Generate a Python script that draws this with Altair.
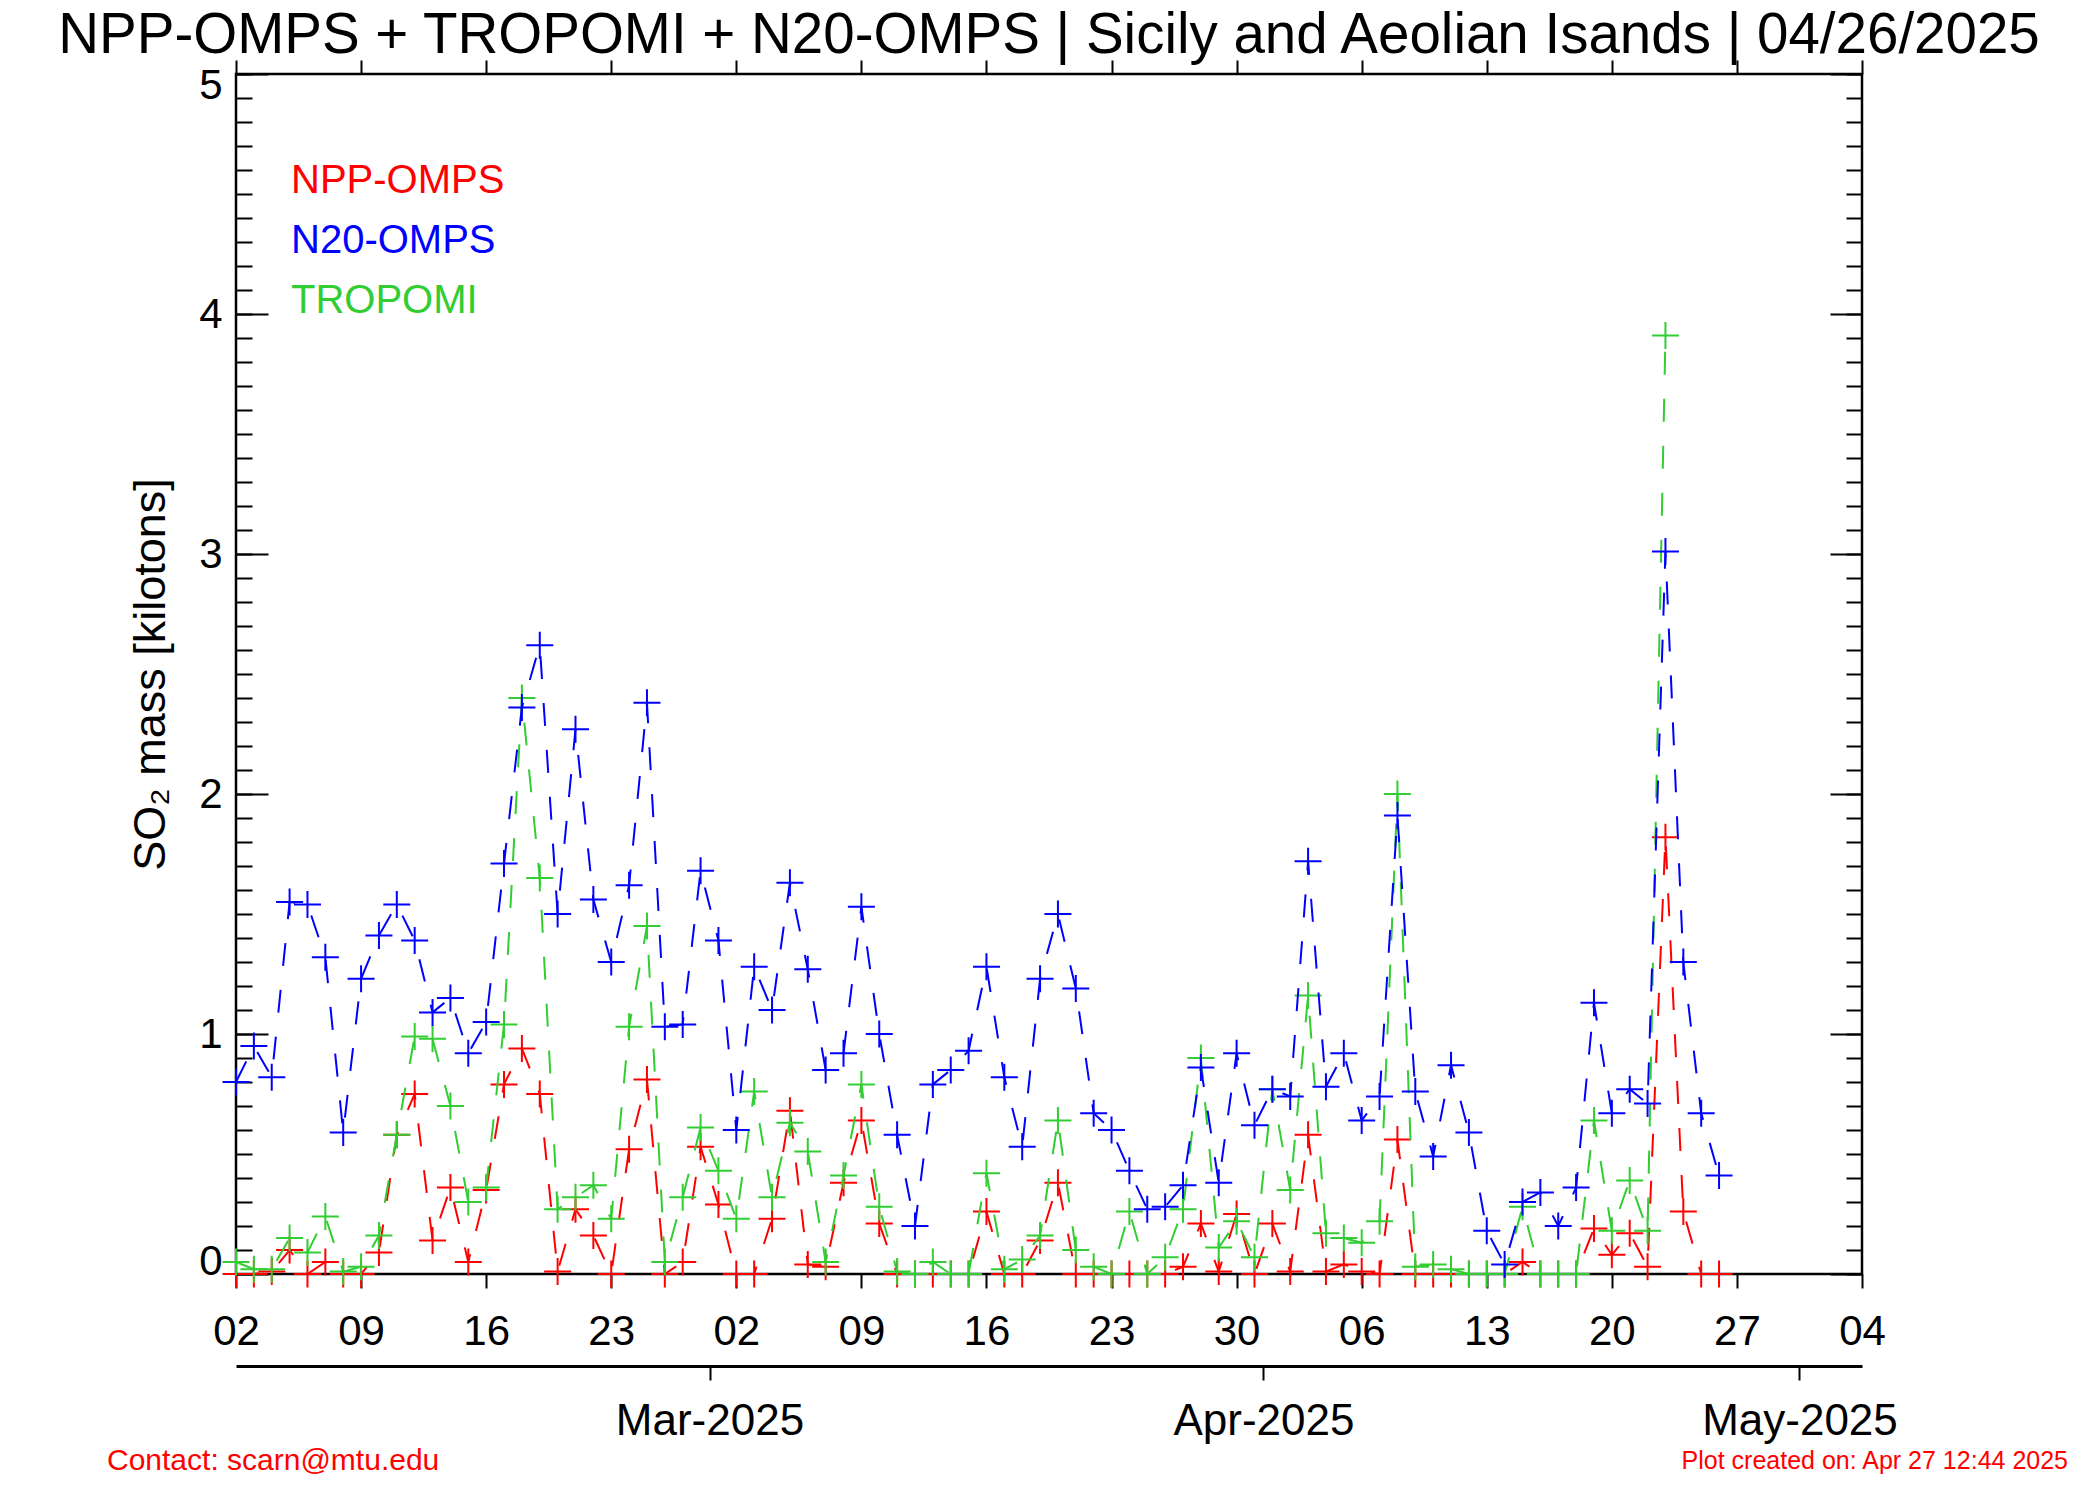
import altair as alt
import pandas as pd

FONT = "Liberation Sans"
TITLE = "NPP-OMPS + TROPOMI + N20-OMPS | Sicily and Aeolian Isands | 04/26/2025"
Y_TITLE = "SO\u2082 mass [kilotons]"
CONTACT = "Contact: scarn@mtu.edu"
CREATED = "Plot created on: Apr 27 12:44 2025"

START = "2025-02-02"
END = "2025-05-04"

series_names = ["NPP-OMPS", "N20-OMPS", "TROPOMI"]
series_colors = ["#ff0000", "#0000ff", "#32cd32"]

# daily values starting 2025-02-02 (kilotons)
npp_omps = [0.00, 0.00, 0.01, 0.10, 0.00, 0.05, 0.00, 0.00, 0.09, 0.58,
            0.75, 0.14, 0.36, 0.05, 0.35, 0.79, 0.94, 0.75, 0.01, 0.27,
            0.16, 0.00, 0.52, 0.81, 0.00, 0.05, 0.53, 0.29, 0.00, 0.00,
            0.23, 0.68, 0.04, 0.03, 0.38, 0.64, 0.21, 0.00, 0.00, 0.00,
            0.00, 0.00, 0.26, 0.00, 0.00, 0.14, 0.38, 0.00, 0.00, 0.00,
            0.00, 0.00, 0.00, 0.03, 0.21, 0.01, 0.25, 0.00, 0.21, 0.01,
            0.58, 0.01, 0.04, 0.01, 0.00, 0.56, 0.00, 0.00, 0.00, 0.00,
            0.00, 0.00, 0.05, 0.00, 0.00, 0.00, 0.19, 0.08, 0.17, 0.03,
            1.82, 0.26, 0.00, 0.00]

n20_omps = [0.80, 0.95, 0.82, 1.55, 1.54, 1.32, 0.59, 1.23, 1.41, 1.54,
            1.39, 1.09, 1.15, 0.92, 1.05, 1.71, 2.36, 2.62, 1.50, 2.27,
            1.56, 1.30, 1.62, 2.38, 1.03, 1.04, 1.68, 1.39, 0.60, 1.28,
            1.10, 1.63, 1.27, 0.85, 0.92, 1.53, 1.00, 0.58, 0.20, 0.79,
            0.85, 0.93, 1.28, 0.82, 0.53, 1.23, 1.50, 1.19, 0.67, 0.60,
            0.43, 0.27, 0.28, 0.37, 0.86, 0.38, 0.92, 0.62, 0.77, 0.74,
            1.72, 0.78, 0.92, 0.64, 0.74, 1.91, 0.76, 0.49, 0.87, 0.59,
            0.18, 0.04, 0.30, 0.34, 0.20, 0.36, 1.13, 0.67, 0.77, 0.71,
            3.01, 1.30, 0.67, 0.41]

tropomi = [0.05, 0.02, 0.02, 0.15, 0.09, 0.24, 0.01, 0.03, 0.16, 0.58,
           0.99, 0.98, 0.70, 0.30, 0.36, 1.04, 2.40, 1.65, 0.27, 0.32,
           0.37, 0.23, 1.03, 1.45, 0.05, 0.32, 0.61, 0.43, 0.23, 0.76,
           0.32, 0.63, 0.51, 0.05, 0.41, 0.79, 0.28, 0.01, 0.00, 0.05,
           0.00, 0.00, 0.42, 0.02, 0.06, 0.16, 0.64, 0.10, 0.03, 0.00,
           0.26, 0.00, 0.07, 0.27, 0.90, 0.11, 0.22, 0.07, 0.77, 0.35,
           1.16, 0.17, 0.15, 0.13, 0.22, 2.00, 0.03, 0.04, 0.02, 0.00,
           0.00, 0.00, 0.28, 0.00, 0.00, 0.00, 0.64, 0.18, 0.39, 0.18,
           3.91]

y_major = [0, 1, 2, 3, 4, 5]
y_minor = [round(i * 0.1, 1) for i in range(51)]
month_ticks = ["2025-02-28T12:00:00Z", "2025-03-31T12:00:00Z", "2025-04-30T12:00:00Z"]


def dt(ts):
    t = pd.Timestamp(ts)
    return alt.DateTime(year=t.year, month=t.month, date=t.day,
                        hours=t.hour, utc=True)


week_vals = [dt(d) for d in pd.date_range(START, END, freq="7D")]
month_vals = [dt(m.replace("Z", "")) for m in month_ticks]


def day_strings(n):
    return list(pd.date_range(START, periods=n, freq="D").strftime("%Y-%m-%d"))


def xscale():
    return alt.Scale(type="utc", domain=[dt(START), dt(END)])


def yscale():
    return alt.Scale(domain=[0, 5], nice=False, zero=False)


TICK = dict(tickColor="black", tickWidth=2, domain=False, grid=False, title=None)

day_axis = alt.Axis(orient="bottom", values=week_vals,
                    labelExpr="utcFormat(datum.value, '%d')",
                    tickSize=14, labelFont=FONT, labelFontSize=42, labelColor="black",
                    labelPadding=23, labelFlush=False, labelOverlap=False, labelLimit=400,
                    **TICK)
top_axis = alt.Axis(orient="top", values=week_vals, tickSize=14, labels=False, **TICK)
month_axis = alt.Axis(orient="bottom", offset=92, values=month_vals,
                      labelExpr="utcFormat(datum.value + 43200000, '%b-%Y')",
                      tickSize=14, tickColor="black", tickWidth=2,
                      domain=True, domainColor="black", domainWidth=3, grid=False, title=None,
                      labelFont=FONT, labelFontSize=44, labelColor="black",
                      labelPadding=19, labelFlush=False, labelOverlap=False, labelLimit=400)

ylabel_axis = alt.Axis(orient="left", values=y_major, ticks=False, tickSize=0, domain=False,
                       grid=False, labelFont=FONT, labelFontSize=42, labelColor="black",
                       labelPadding=14, labelFlush=True, labelFlushOffset=9,
                       labelOverlap=False,
                       title=Y_TITLE, titleFont=FONT, titleFontSize=45,
                       titleFontWeight="normal", titleColor="black",
                       titleX=-72, titleY=600, titleAngle=270,
                       titleAlign="center", titleBaseline="alphabetic", titleLimit=800)
left_major = alt.Axis(orient="left", offset=-32, values=y_major, tickSize=32, labels=False, **TICK)
left_minor = alt.Axis(orient="left", offset=-16, values=y_minor, tickSize=16, labels=False, **TICK)
right_major = alt.Axis(orient="right", offset=-32, values=y_major, tickSize=32, labels=False, **TICK)
right_minor = alt.Axis(orient="right", offset=-16, values=y_minor, tickSize=16, labels=False, **TICK)

PLUS = "M-1,0L1,0M0,-1L0,1"


def series_layer(values, color, kind, xaxis, yaxis):
    df = pd.DataFrame({"date": day_strings(len(values)), "mass": values})
    base = alt.Chart(df)
    if kind == "line":
        m = base.mark_line(color=color, strokeWidth=2, strokeDash=[23, 24])
    else:
        m = base.mark_point(shape=PLUS, filled=False, color=color, size=729,
                            strokeWidth=2, opacity=1)
    return m.encode(
        x=alt.X("date:T", scale=xscale(), axis=xaxis),
        y=alt.Y("mass:Q", scale=yscale(), axis=yaxis),
    )


red_line = series_layer(npp_omps, series_colors[0], "line", day_axis, ylabel_axis)
red_pts = series_layer(npp_omps, series_colors[0], "point", None, right_major)
green_line = series_layer(tropomi, series_colors[2], "line", top_axis, left_major)
green_pts = series_layer(tropomi, series_colors[2], "point", None, right_minor)
blue_line = series_layer(n20_omps, series_colors[1], "line", None, left_minor)
blue_pts = series_layer(n20_omps, series_colors[1], "point", None, None)

month_layer = alt.Chart(pd.DataFrame({"m": month_ticks})).mark_point(opacity=0).encode(
    x=alt.X("m:T", scale=xscale(), axis=month_axis)
)

legend_layer = alt.Chart(pd.DataFrame({"name": series_names})).mark_text(
    align="left", baseline="middle", font=FONT, fontSize=40
).encode(
    text="name:N",
    x=alt.value(55),
    y=alt.Y("name:N", scale=alt.Scale(domain=series_names, range=[107, 227], padding=0), axis=None),
    color=alt.Color("name:N", scale=alt.Scale(domain=series_names, range=series_colors), legend=None),
)

title_layer = alt.Chart(pd.DataFrame({"t": [TITLE]})).mark_text(
    align="center", baseline="alphabetic", font=FONT, fontSize=56.5, color="black"
).encode(text="t:N", x=alt.value(813), y=alt.value(-21))

contact_layer = alt.Chart(pd.DataFrame({"t": [CONTACT]})).mark_text(
    align="left", baseline="middle", font=FONT, fontSize=30, color="#ff0000"
).encode(text="t:N", x=alt.value(-129), y=alt.value(1387))

created_layer = alt.Chart(pd.DataFrame({"t": [CREATED]})).mark_text(
    align="right", baseline="middle", font=FONT, fontSize=25, color="#ff0000"
).encode(text="t:N", x=alt.value(1832), y=alt.value(1387))

chart = alt.layer(
    month_layer, red_line, red_pts, green_line, green_pts, blue_line, blue_pts,
    legend_layer, title_layer, contact_layer, created_layer,
).resolve_scale(
    x="independent", y="independent", color="independent"
).properties(
    width=1626,
    height=1200,
    autosize=alt.AutoSizeParams(type="none"),
    padding={"left": 228, "top": 66, "right": 222, "bottom": 210},
).configure_view(stroke="black", strokeWidth=2.5)

chart.save("out.html", embed_options={"renderer": "svg", "actions": False})
